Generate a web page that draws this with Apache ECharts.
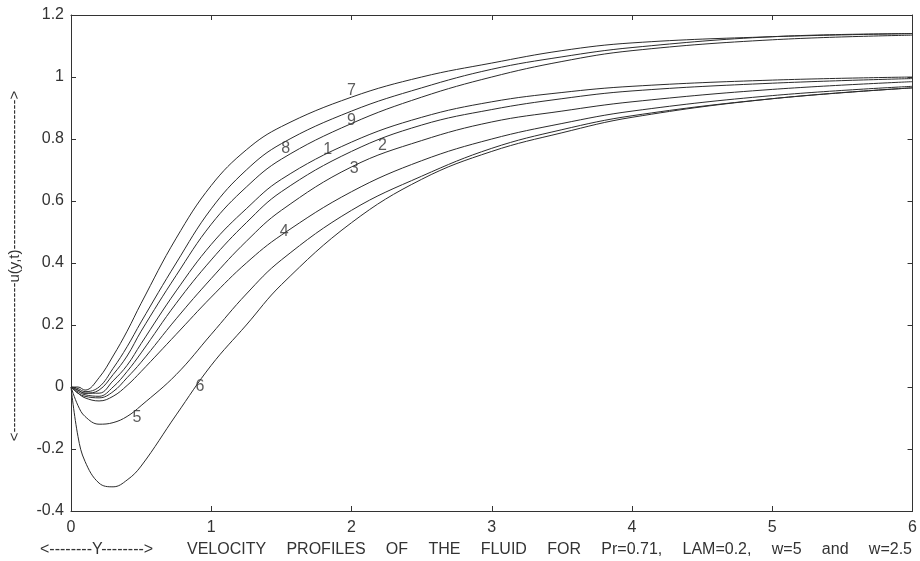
<!DOCTYPE html>
<html>
<head>
<meta charset="utf-8">
<title>Velocity profiles</title>
<script src="https://cdn.jsdelivr.net/npm/echarts@6/dist/echarts.min.js"></script>
<style>
  html, body { margin: 0; padding: 0; background: #fff; }
  #chart { width: 920px; height: 561px; }
</style>
</head>
<body>
<div id="chart"></div>
<script>
const xs = [0, 0.05, 0.1, 0.2, 0.3, 0.4, 0.5, 0.75, 1.0, 1.25, 1.5, 2, 2.5, 3, 3.5, 4, 5, 6];

// u(y,t) for each profile (same order as xs)
const curve1 = [0, -0.01, -0.02, -0.02, 0.02, 0.07, 0.14, 0.31, 0.46, 0.575, 0.67, 0.79, 0.87, 0.92, 0.95, 0.97, 0.99, 1.0];
const curve2 = [0, -0.015, -0.025, -0.03, 0.0, 0.05, 0.11, 0.27, 0.41, 0.53, 0.63, 0.76, 0.845, 0.895, 0.93, 0.955, 0.98, 0.995];
const curve3 = [0, -0.02, -0.03, -0.035, -0.015, 0.03, 0.08, 0.22, 0.35, 0.47, 0.57, 0.71, 0.795, 0.855, 0.89, 0.92, 0.96, 0.985];
const curve4 = [0, -0.02, -0.035, -0.045, -0.03, 0.005, 0.05, 0.17, 0.29, 0.40, 0.49, 0.63, 0.73, 0.80, 0.85, 0.89, 0.94, 0.97];
const curve5 = [0, -0.06, -0.095, -0.12, -0.115, -0.095, -0.06, 0.04, 0.17, 0.30, 0.41, 0.57, 0.68, 0.77, 0.83, 0.875, 0.93, 0.965];
const curve6 = [0, -0.16, -0.24, -0.31, -0.322, -0.3, -0.255, -0.09, 0.07, 0.2, 0.33, 0.53, 0.67, 0.76, 0.82, 0.87, 0.93, 0.965];
const curve7 = [0, 0.0, -0.01, 0.03, 0.1, 0.18, 0.27, 0.48, 0.65, 0.765, 0.84, 0.935, 1.0, 1.045, 1.085, 1.11, 1.13, 1.14];
const curve8 = [0, -0.005, -0.015, 0.0, 0.06, 0.13, 0.21, 0.40, 0.575, 0.70, 0.785, 0.89, 0.965, 1.025, 1.065, 1.095, 1.13, 1.14];
const curve9 = [0, -0.01, -0.02, -0.01, 0.04, 0.1, 0.18, 0.36, 0.525, 0.645, 0.735, 0.85, 0.935, 1.0, 1.05, 1.085, 1.12, 1.135];

const curveNames = ['1', '2', '3', '4', '5', '6', '7', '8', '9'];
const curves = [curve1, curve2, curve3, curve4, curve5, curve6, curve7, curve8, curve9];

// where the curve numbers sit on the plot (data coords)
const labelX = [1.83, 2.22, 2.02, 1.52, 0.47, 0.92, 2.0, 1.53, 2.0];
const labelY = [0.765, 0.78, 0.705, 0.50, -0.10, 0.0, 0.955, 0.77, 0.858];

// axis ticks
const xTicks = [0, 1, 2, 3, 4, 5, 6];
const yTicks = [-0.4, -0.2, 0, 0.2, 0.4, 0.6, 0.8, 1, 1.2];

const yTitle = '<------------------------------u(y,t)------------------------------>';
const xTitle = '<--------Y-------->';
const captionWords = ['VELOCITY', 'PROFILES', 'OF', 'THE', 'FLUID', 'FOR', 'Pr=0.71,', 'LAM=0.2,', 'w=5', 'and', 'w=2.5'];

const FONT = '"Liberation Sans", Arial, Helvetica, sans-serif';
const INK = '#333';

const chart = echarts.init(document.getElementById('chart'));

function axisBase(extra) {
  return Object.assign({
    type: 'value',
    axisLine: { show: true, onZero: false, lineStyle: { color: INK, width: 1 } },
    axisTick: { show: true, inside: true, length: 5, lineStyle: { color: INK } },
    splitLine: { show: false },
    axisLabel: { show: false }
  }, extra);
}

const lineSeries = curves.map(function (c, i) {
  return {
    name: curveNames[i],
    type: 'line',
    data: xs.map(function (x, k) { return [x, c[k]]; }),
    showSymbol: false,
    smooth: 0.4,
    lineStyle: { color: '#2b2b2b', width: 1 },
    silent: true,
    z: 2
  };
});

const labelSeries = {
  type: 'scatter',
  symbolSize: 0,
  data: curveNames.map(function (n, i) { return [labelX[i], labelY[i], n]; }),
  label: {
    show: true,
    position: 'inside',
    formatter: function (p) { return p.value[2]; },
    color: INK,
    fontSize: 16,
    fontFamily: FONT
  },
  silent: true,
  z: 3
};

// spread the caption words evenly between two edges, like the original figure
const ctx = document.createElement('canvas').getContext('2d');
ctx.font = '16px ' + FONT;
const capStart = 187, capEnd = 912;
const widths = captionWords.map(function (w) { return ctx.measureText(w).width; });
const totalW = widths.reduce(function (a, b) { return a + b; }, 0);
const gap = (capEnd - capStart - totalW) / (captionWords.length - 1);

const graphics = [{
  type: 'text',
  x: 15,
  y: 266,
  rotation: Math.PI / 2,
  style: {
    text: yTitle,
    fill: INK,
    font: '15px ' + FONT,
    textAlign: 'center',
    textVerticalAlign: 'middle'
  }
}, {
  type: 'text',
  left: 40,
  top: 542,
  style: { text: xTitle, fill: INK, font: '16px ' + FONT }
}];
let cx = capStart;
captionWords.forEach(function (w, i) {
  graphics.push({
    type: 'text',
    x: cx,
    y: 542,
    style: { text: w, fill: INK, font: '16px ' + FONT }
  });
  cx += widths[i] + gap;
});

const option = {
  backgroundColor: '#fff',
  animation: false,
  grid: { left: 71, right: 4, top: 15, bottom: 50 },
  xAxis: [
    axisBase({
      min: xTicks[0], max: xTicks[xTicks.length - 1], interval: 1, position: 'bottom',
      axisLabel: { show: true, color: INK, fontSize: 16, fontFamily: FONT, margin: 9 }
    }),
    axisBase({ min: xTicks[0], max: xTicks[xTicks.length - 1], interval: 1, position: 'top' })
  ],
  yAxis: [
    axisBase({
      min: yTicks[0], max: yTicks[yTicks.length - 1], interval: 0.2, position: 'left',
      axisLabel: { show: true, color: INK, fontSize: 16, fontFamily: FONT, margin: 7 }
    }),
    axisBase({ min: yTicks[0], max: yTicks[yTicks.length - 1], interval: 0.2, position: 'right' })
  ],
  series: lineSeries.concat([labelSeries]),
  graphic: graphics
};

chart.setOption(option);
</script>
</body>
</html>
